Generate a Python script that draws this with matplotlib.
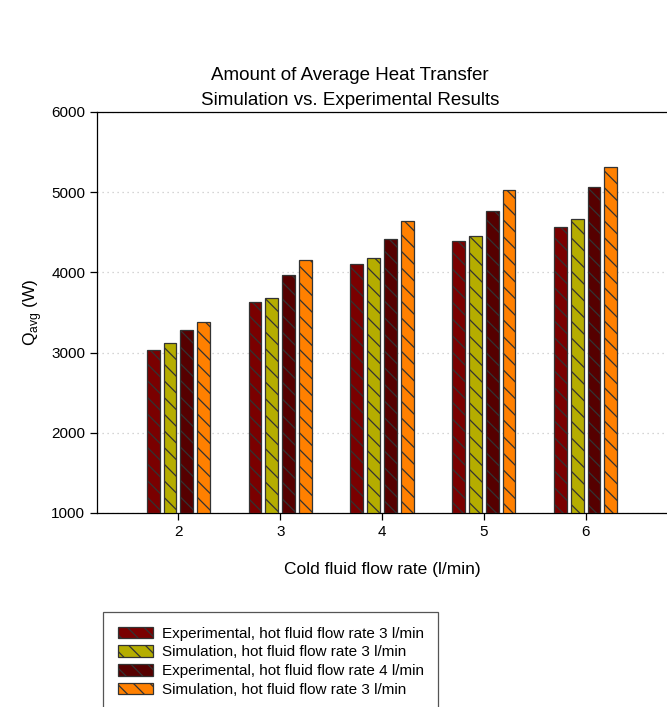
import numpy as np
import matplotlib.pyplot as plt

# Dados
vazao_fria = [2, 3, 4, 5, 6]
exp_quente3 = [3035, 3630, 4100, 4390, 4560]
sim_quente3 = [3120, 3680, 4175, 4460, 4660]
exp_quente4 = [3285, 3970, 4420, 4770, 5060]
sim_quente3b = [3380, 4150, 4640, 5025, 5310]

series = [
    ('Experimental, hot fluid flow rate 3 l/min', exp_quente3, '#7a0000'),
    ('Simulation, hot fluid flow rate 3 l/min', sim_quente3, '#b5ad00'),
    ('Experimental, hot fluid flow rate 4 l/min', exp_quente4, '#560000'),
    ('Simulation, hot fluid flow rate 3 l/min', sim_quente3b, '#ff8000'),
]

plt.rcParams['font.family'] = ['Liberation Sans', 'DejaVu Sans']
plt.rcParams['hatch.linewidth'] = 0.9

fig = plt.figure(figsize=(6.67, 7.07), dpi=100)
ax = fig.add_axes([97 / 667, 1 - 513 / 707, 570 / 667, 401 / 707])

x = np.array(vazao_fria, dtype=float)
largura = 0.125
passo = 0.165
for i, (nome, valores, cor) in enumerate(series):
    pos = x + (i - 1.5) * passo
    ax.bar(pos, np.array(valores) - 1000, bottom=1000, width=largura,
           color=cor, edgecolor='#333333', linewidth=0.9, hatch='\\\\',
           label=nome, zorder=3)

ax.set_xlim(1.2, 6.8)
ax.set_ylim(1000, 6000)
ax.set_xticks(vazao_fria)
ax.set_yticks([1000, 2000, 3000, 4000, 5000, 6000])
ax.tick_params(direction='out', length=5, labelsize=11, width=0.9)
ax.yaxis.grid(True, linestyle=(0, (1, 3)), color='#c8c8c8', linewidth=0.9, zorder=0)
ax.spines['right'].set_visible(False)
for s in ['left', 'bottom', 'top']:
    ax.spines[s].set_linewidth(0.9)

ax.set_xlabel('Cold fluid flow rate (l/min)', fontsize=12.5, labelpad=17)
ax.set_ylabel('Q$_{\\mathregular{avg}}$ (W)', fontsize=12.5, labelpad=5)

fig.text(350 / 667, 1 - 88 / 707,
         'Amount of Average Heat Transfer\nSimulation vs. Experimental Results',
         ha='center', va='center', fontsize=13.5, linespacing=1.55)

leg = fig.legend(loc='upper left', bbox_to_anchor=(103 / 667, 1 - 612 / 707),
                 borderaxespad=0, fontsize=11, handlelength=2.35, handleheight=0.8,
                 handletextpad=0.55, labelspacing=0.3, borderpad=0.95,
                 fancybox=False, edgecolor='#555555', framealpha=1)
leg.get_frame().set_linewidth(0.9)

plt.savefig('out.png', dpi=100)
